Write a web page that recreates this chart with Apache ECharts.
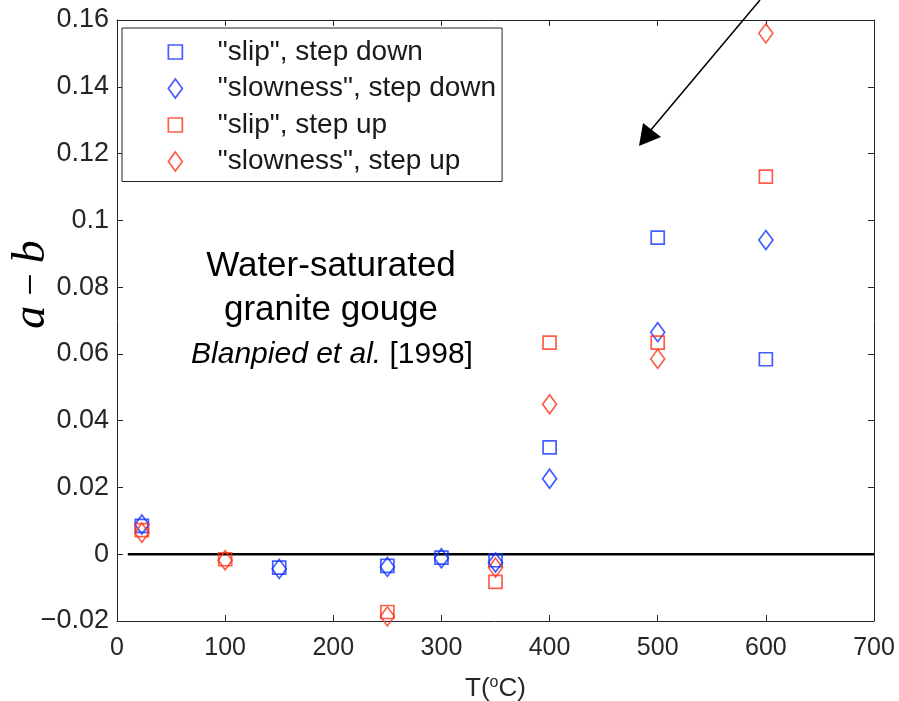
<!DOCTYPE html>
<html>
<head>
<meta charset="utf-8">
<script src="https://cdn.jsdelivr.net/npm/echarts@6/dist/echarts.min.js"></script>
<style>html,body{margin:0;padding:0;background:#fff;}#c{width:899px;height:701px;}</style>
</head>
<body>
<div id="c"></div>
<script>
// ---- data ----
const seriesNames = ['"slip", step down', '"slowness", step down', '"slip", step up', '"slowness", step up'];
const tSlipDown = [23, 150, 250, 300, 350, 400, 500, 600];
const vSlipDown = [0.0085, -0.0040, -0.0035, -0.0010, -0.0018, 0.0320, 0.0948, 0.0584];
const tSlowDown = [23, 150, 250, 300, 350, 400, 500, 600];
const vSlowDown = [0.0089, -0.0044, -0.0038, -0.0012, -0.0025, 0.0226, 0.0665, 0.0941];
const tSlipUp = [23, 100, 250, 350, 400, 500, 600];
const vSlipUp = [0.0072, -0.0015, -0.0173, -0.0083, 0.0634, 0.0634, 0.1131];
const tSlowUp = [23, 100, 250, 350, 400, 500, 600];
const vSlowUp = [0.0064, -0.0018, -0.0186, -0.0040, 0.0449, 0.0585, 0.1560];
const zeroLineT = [10, 700];
const zeroLineV = [0, 0];
const xTicks = [0, 100, 200, 300, 400, 500, 600, 700];
const yTicks = [-0.02, 0, 0.02, 0.04, 0.06, 0.08, 0.1, 0.12, 0.14, 0.16];
const noteLines = ['Water-saturated', 'granite gouge'];
const noteCite = ['Blanpied et al.', ' [1998]'];

const BLUE = '#1535ff';
const RED = '#ff3519';
const AX = '#262626';
const FONT = '"Liberation Sans", Arial, Helvetica, sans-serif';

function pairs(t, v) { return t.map((x, i) => [x, v[i]]); }

const chart = echarts.init(document.getElementById('c'), null, { renderer: 'canvas' });

function yFmt(v) {
  const s = String(parseFloat(v.toFixed(3)));
  return s.replace('-', '\u2212');
}

function axisBase(extra) {
  return Object.assign({
    axisLine: { show: true, onZero: false, lineStyle: { color: AX, width: 1 } },
    axisTick: { show: true, inside: true, length: 6, lineStyle: { color: AX } },
    splitLine: { show: false }
  }, extra);
}

const SQ = 'path://M0,0M19,19M2.5,2.5L16.5,2.5L16.5,16.5L2.5,16.5Z';
const DM = 'path://M0,0M19,19M9.5,0L16.5,9.5L9.5,19L2.5,9.5Z';

const option = {
  backgroundColor: '#fff',
  animation: false,
  grid: { left: 117, right: 25, top: 20, bottom: 80, containLabel: false, outerBoundsMode: 'none' },
  xAxis: [
    axisBase({
      type: 'value', min: xTicks[0], max: xTicks[xTicks.length - 1], interval: 100,
      position: 'bottom',
      axisLabel: { color: AX, fontSize: 25, fontFamily: FONT, margin: 15 },
      name: '{n|T(}{s|o}{n|C)}', nameLocation: 'middle', nameGap: 54, nameMoveOverlap: false,
      nameTextStyle: {
        rich: {
          n: { fontSize: 26, fontFamily: FONT, color: AX },
          s: { fontSize: 16, fontFamily: FONT, color: AX, padding: [0, 0, 12, 0] }
        }
      }
    }),
    axisBase({
      type: 'value', min: 0, max: 700, interval: 100, position: 'top',
      axisLabel: { show: false }
    })
  ],
  yAxis: [
    axisBase({
      type: 'value', min: yTicks[0], max: yTicks[yTicks.length - 1], interval: 0.02,
      position: 'left',
      axisLabel: { color: AX, fontSize: 27, fontFamily: FONT, margin: 8, formatter: yFmt },
      name: '{i|a}{m| \u2212 }{i|b}', nameLocation: 'middle', nameRotate: 90, nameGap: 62,
      nameMoveOverlap: false,
      nameTextStyle: {
        padding: [0, 0, 0, 72],
        rich: {
          i: { fontSize: 46, fontFamily: '"Liberation Serif", "Times New Roman", serif', fontStyle: 'italic', color: '#000' },
          m: { fontSize: 40, fontFamily: '"Liberation Serif", "Times New Roman", serif', color: '#000' }
        }
      }
    }),
    axisBase({
      type: 'value', min: -0.02, max: 0.16, interval: 0.02, position: 'right',
      axisLabel: { show: false }
    })
  ],
  legend: {
    orient: 'vertical', left: 122, top: 28,
    padding: [10, 6, 6, 43],
    itemWidth: 19, itemHeight: 19, itemGap: 8.5,
    borderColor: AX, borderWidth: 1, backgroundColor: '#fff',
    textStyle: { fontSize: 28, fontFamily: FONT, color: '#1a1a1a', lineHeight: 19, padding: [0, 0, 0, 28] },
    itemStyle: { borderWidth: 1.7 },
    data: [
      { name: seriesNames[0], icon: SQ },
      { name: seriesNames[1], icon: DM },
      { name: seriesNames[2], icon: SQ },
      { name: seriesNames[3], icon: DM }
    ],
    selectedMode: false
  },
  series: [
    {
      name: 'zero', type: 'line', data: pairs(zeroLineT, zeroLineV), symbol: 'none',
      lineStyle: { color: '#000', width: 2.5 }, z: 1, silent: true
    },
    {
      name: seriesNames[0], type: 'scatter', data: pairs(tSlipDown, vSlipDown),
      symbol: 'rect', symbolSize: 13,
      itemStyle: { color: 'rgba(0,0,0,0)', borderColor: BLUE, borderWidth: 1.7 }, z: 3
    },
    {
      name: seriesNames[1], type: 'scatter', data: pairs(tSlowDown, vSlowDown),
      symbol: 'diamond', symbolSize: [14, 19],
      itemStyle: { color: 'rgba(0,0,0,0)', borderColor: BLUE, borderWidth: 1.7 }, z: 3
    },
    {
      name: seriesNames[2], type: 'scatter', data: pairs(tSlipUp, vSlipUp),
      symbol: 'rect', symbolSize: 13,
      itemStyle: { color: 'rgba(0,0,0,0)', borderColor: RED, borderWidth: 1.7 }, z: 4
    },
    {
      name: seriesNames[3], type: 'scatter', data: pairs(tSlowUp, vSlowUp),
      symbol: 'diamond', symbolSize: [14, 19],
      itemStyle: { color: 'rgba(0,0,0,0)', borderColor: RED, borderWidth: 1.7 }, z: 4
    }
  ],
  graphic: [
    { type: 'text', x: 331, y: 266, style: { text: noteLines[0], font: '35px ' + FONT, fill: '#000', align: 'center', verticalAlign: 'middle' } },
    { type: 'text', x: 331, y: 310, style: { text: noteLines[1], font: '35px ' + FONT, fill: '#000', align: 'center', verticalAlign: 'middle' } },
    { type: 'text', x: 332, y: 355, style: {
        text: '{it|' + noteCite[0] + '}{rg|' + noteCite[1] + '}', align: 'center', verticalAlign: 'middle',
        rich: {
          it: { font: 'italic 30px ' + FONT, fill: '#000' },
          rg: { font: '30px ' + FONT, fill: '#000' }
        }
    } },
    // arrow annotation
    { type: 'line', shape: { x1: 760, y1: 0, x2: 650, y2: 131 }, style: { stroke: '#000', lineWidth: 1.5 }, z: 10 },
    { type: 'polygon', shape: { points: [[639, 146], [643, 123], [661, 137]] }, style: { fill: '#000' }, z: 10 }
  ]
};

chart.setOption(option);
</script>
</body>
</html>
